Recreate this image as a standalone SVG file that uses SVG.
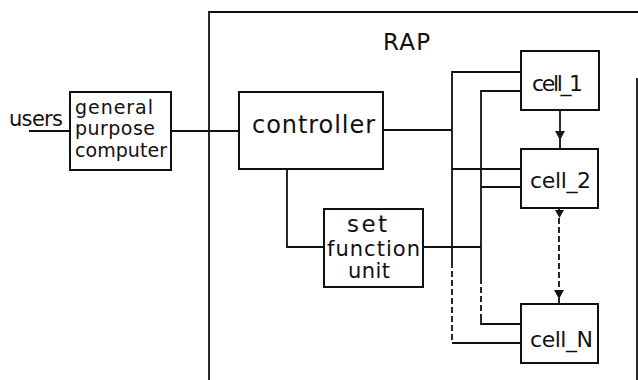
<svg xmlns="http://www.w3.org/2000/svg" width="638" height="380" viewBox="0 0 638 380">
<style>
.box{fill:#fff;stroke:#111;stroke-width:2}
.ln{fill:none;stroke:#111;stroke-width:1.8}
.dash{fill:none;stroke:#111;stroke-width:1.8;stroke-dasharray:6,3}
.t{font-family:"DejaVu Sans","Liberation Sans",Arial,sans-serif;fill:#111}
.ah{fill:#111}
</style>
<rect width="638" height="380" fill="#fff"/>
<g id="rap">
<path class="ln" d="M209,380 V12 H638"/>
<path class="ln" d="M637,78 V380" stroke-width="1.2"/>
<text class="t" x="383" y="50" font-size="23" textLength="47">RAP</text>
</g>
<g id="connectors">
<path class="ln" d="M29,131 H70"/>
<path class="ln" d="M171,131 H239"/>
<path class="ln" d="M383,130 H452"/>
<path class="ln" d="M287,169 V247 H324"/>
<path class="ln" d="M423,247 H481"/>
<path class="ln" d="M521,72 H452 V262"/>
<path class="dash" d="M452,262 V343"/>
<path class="ln" d="M452,343 H521"/>
<path class="ln" d="M521,91 H481 V278"/>
<path class="dash" d="M481,278 V318"/>
<path class="ln" d="M481,318 V324 H521"/>
<path class="ln" d="M452,169 H521"/>
<path class="ln" d="M481,187 H521"/>
<path class="ln" d="M560,110 V149"/>
<polygon class="ah" points="555,131 565,131 560,140"/>
<path class="ln" d="M559,208 V212"/>
<polygon class="ah" points="555,210 564,210 559.5,218"/>
<path class="dash" d="M559,218 V292"/>
<polygon class="ah" points="554,290 564,290 559,299"/>
<path class="ln" d="M559,298 V304"/>
</g>
<g id="users">
<text class="t" x="9" y="126" font-size="21" textLength="54">users</text>
</g>
<g id="gpc">
<rect class="box" x="70" y="92" width="101" height="78"/>
<text class="t" x="75" y="114" font-size="19" textLength="78">general</text>
<text class="t" x="75" y="135" font-size="19" textLength="80">purpose</text>
<text class="t" x="75" y="157" font-size="19" textLength="92">computer</text>
</g>
<g id="controller">
<rect class="box" x="239" y="92" width="144" height="77"/>
<text class="t" x="252" y="133" font-size="24" textLength="123">controller</text>
</g>
<g id="setfunction">
<rect class="box" x="324" y="209" width="99" height="78"/>
<text class="t" x="347" y="232" font-size="23" textLength="40">set</text>
<text class="t" x="327" y="256" font-size="21" textLength="93">function</text>
<text class="t" x="348" y="278" font-size="21" textLength="42">unit</text>
</g>
<g id="cell1">
<rect class="box" x="521" y="51" width="78" height="59"/>
<text class="t" x="532" y="91" font-size="22" textLength="51">cell_1</text>
</g>
<g id="cell2">
<rect class="box" x="521" y="149" width="77" height="59"/>
<text class="t" x="530" y="188" font-size="22" textLength="61">cell_2</text>
</g>
<g id="cellN">
<rect class="box" x="521" y="304" width="77" height="59"/>
<text class="t" x="530" y="347" font-size="22" textLength="63">cell_N</text>
</g>
</svg>
